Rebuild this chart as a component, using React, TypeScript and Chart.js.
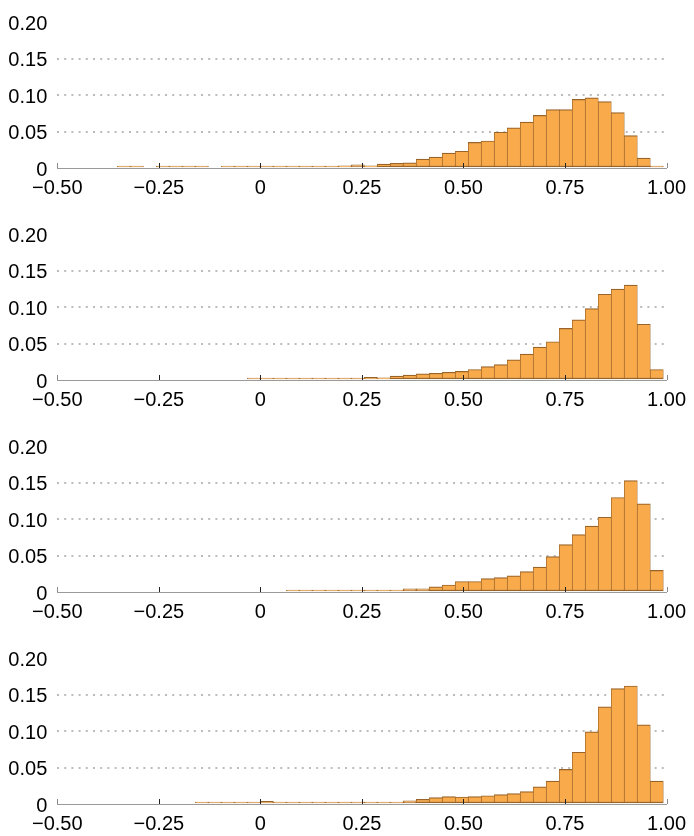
import React, { useEffect, useRef } from "react";
import { Chart, registerables } from "chart.js";

Chart.register(...registerables);

// Histogram bins: 46 bins of width 0.032, first bin starts at -0.48
const binStart = -0.48;
const binWidth = 0.032;
const T = 0.0004; // near-empty bins (drawn as a thin line)

const panel1: (number | null)[] = [
  null, null, null, null, T, T, null, T, T, T, T, null, T, T, T,
  T, T, 0.001, 0.001, 0.001, 0.0026, 0.003, 0.0044, 0.003, 0.0052, 0.0065, 0.007,
  0.0122, 0.0148, 0.0205, 0.023, 0.035, 0.037, 0.049, 0.055, 0.063, 0.072,
  0.08, 0.08, 0.094, 0.096, 0.091, 0.076, 0.0445, 0.0135, T,
];
const panel2: (number | null)[] = [
  null, null, null, null, null, null, null, null, null, null, null, null, null, null, T,
  T, T, T, T, T, 0.0012, 0.0015, 0.0017, 0.0035, 0.003, 0.0052, 0.0066,
  0.0083, 0.0092, 0.0105, 0.0118, 0.0144, 0.0183, 0.021, 0.0275, 0.0354, 0.045,
  0.0524, 0.0707, 0.0825, 0.0978, 0.1175, 0.1245, 0.13, 0.0764, 0.0144,
];
const panel3: (number | null)[] = [
  null, null, null, null, null, null, null, null, null, null, null, null, null, null, null,
  null, null, T, T, T, T, T, T, 0.0006, 0.0013, 0.0026, 0.0044,
  0.0044, 0.007, 0.0096, 0.0144, 0.0144, 0.0183, 0.0196, 0.0222, 0.0279, 0.034,
  0.0484, 0.065, 0.0785, 0.0902, 0.1024, 0.1295, 0.1526, 0.1208, 0.0296,
];
const panel4: (number | null)[] = [
  null, null, null, null, null, null, null, null, null, null, T, T, T, 0.0006, 0.0026,
  0.0035, 0.002, 0.0013, 0.0009, 0.0009, 0.0007, 0.0013, 0.0009, 0.0017, 0.0026, 0.002, 0.0043,
  0.0065, 0.0087, 0.01, 0.0096, 0.01, 0.0113, 0.013, 0.0143, 0.017, 0.0235,
  0.0313, 0.0474, 0.0709, 0.0987, 0.133, 0.158, 0.1617, 0.1083, 0.0313,
];

const panels = [panel1, panel2, panel3, panel4];

const xTicks = [-0.5, -0.25, 0, 0.25, 0.5, 0.75, 1.0];
const yTicks = [0, 0.05, 0.1, 0.15, 0.2];

const FONT = "'Liberation Sans', Arial, sans-serif";
const PANEL_H = 212;

function fmtX(v: number): string {
  if (Math.abs(v) < 1e-9) return "0";
  const s = Math.abs(v).toFixed(2);
  return v < 0 ? "\u2212" + s : s;
}
function fmtY(v: number): string {
  if (Math.abs(v) < 1e-9) return "0";
  return v.toFixed(2);
}

const inwardTicks = {
  id: "inwardTicks",
  afterDatasetsDraw(chart: any) {
    const xs = chart.scales.x;
    const { ctx, chartArea } = chart;
    ctx.save();
    ctx.lineWidth = 1;
    xTicks.forEach((v, i) => {
      const px = Math.round(xs.getPixelForValue(v)) + 0.5;
      ctx.strokeStyle = i === 0 || i === xTicks.length - 1 ? "#8a8a8a" : "#222";
      ctx.beginPath();
      ctx.moveTo(px, chartArea.bottom);
      ctx.lineTo(px, chartArea.bottom - 5);
      ctx.stroke();
    });
    ctx.restore();
  },
};

function Panel({ values }: { values: (number | null)[] }) {
  const ref = useRef<HTMLCanvasElement | null>(null);
  useEffect(() => {
    if (!ref.current) return;
    const data = values.map((v, i) => ({ x: binStart + (i + 0.5) * binWidth, y: v }));
    const chart = new Chart(ref.current, {
      type: "bar",
      data: {
        datasets: [
          {
            data: data as any,
            backgroundColor: "#F9AA4B",
            borderColor: "#9A6428",
            borderWidth: { top: 1.2, bottom: 1.5, left: 0.7, right: 0.7 } as any,
            borderSkipped: false,
            barPercentage: 1,
            categoryPercentage: 1,
            minBarLength: 2,
          },
        ],
      },
      plugins: [inwardTicks],
      options: {
        animation: false,
        responsive: false,
        events: [],
        layout: { padding: { top: 15, right: 23.3, left: 0, bottom: 0 } },
        plugins: { legend: { display: false }, tooltip: { enabled: false } },
        scales: {
          x: {
            type: "linear",
            min: -0.5,
            max: 1.0,
            offset: false,
            afterFit: (s: any) => {
              s.height = 44;
            },
            afterBuildTicks: (s: any) => {
              s.ticks = xTicks.map((v) => ({ value: v }));
            },
            grid: { display: false, drawTicks: false },
            border: { display: true, color: "#9a9a9a", width: 1 },
            ticks: {
              autoSkip: false,
              maxRotation: 0,
              padding: 8,
              color: "#000",
              font: { family: FONT, size: 20 },
              callback: (v: any) => fmtX(Number(v)),
            },
          },
          y: {
            min: 0,
            max: 0.2,
            afterFit: (s: any) => {
              s.width = 57.3;
            },
            afterBuildTicks: (s: any) => {
              s.ticks = yTicks.map((v) => ({ value: v }));
            },
            grid: {
              drawTicks: false,
              lineWidth: 2,
              color: (c: any) => {
                const k = Math.round((c.tick?.value ?? 0) * 100);
                return k === 5 || k === 10 || k === 15 ? "#bcbcbc" : "rgba(0,0,0,0)";
              },
            },
            border: { display: false, dash: [2, 5.2] },
            ticks: {
              padding: 10,
              labelOffset: 2,
              color: "#000",
              font: { family: FONT, size: 20 },
              callback: (v: any) => fmtY(Number(v)),
            },
          },
        },
      } as any,
    });
    return () => chart.destroy();
  }, [values]);
  return (
    <div style={{ width: 694, height: PANEL_H, position: "relative" }}>
      <canvas ref={ref} width={694} height={PANEL_H} style={{ display: "block" }} />
    </div>
  );
}

export default function App() {
  return (
    <div
      style={{
        position: "absolute",
        top: 0,
        left: 0,
        width: 694,
        height: 836,
        overflow: "hidden",
        background: "#fff",
      }}
    >
      {panels.map((p, i) => (
        <Panel key={i} values={p} />
      ))}
    </div>
  );
}
